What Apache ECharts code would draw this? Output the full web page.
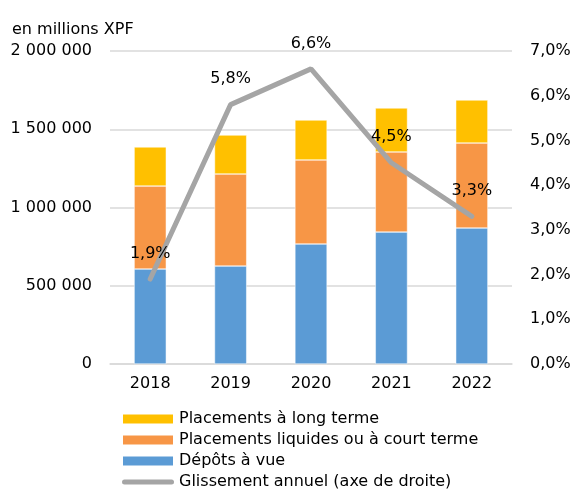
<!DOCTYPE html>
<html>
<head>
<meta charset="utf-8">
<script src="https://cdn.jsdelivr.net/npm/echarts@6/dist/echarts.min.js"></script>
<style>
  html, body { margin: 0; padding: 0; background: #fff; }
  #chart { width: 575px; height: 491px; }
</style>
</head>
<body>
<div id="chart"></div>
<script>
const years = ["2018", "2019", "2020", "2021", "2022"];
// en millions XPF
const depotsVue = [607000, 626000, 767000, 843000, 869000];
const placementsCourt = [530000, 588000, 537000, 512000, 543000];
const placementsLong = [250000, 249000, 255000, 281000, 275000];
// glissement annuel en %
const glissement = [1.9, 5.8, 6.6, 4.5, 3.3];

const font = "DejaVu Sans";
const chart = echarts.init(document.getElementById("chart"));

const fmtNum = v => String(v).replace(/\B(?=(\d{3})+(?!\d))/g, " ");
const fmtPct = v => v.toFixed(1).replace(".", ",") + "%";

chart.setOption({
    animation: false,
    textStyle: { fontFamily: font },
    title: {
        text: "en millions XPF",
        left: 7,
        top: 17,
        textStyle: { fontFamily: font, fontSize: 16, fontWeight: "normal", color: "#000" }
    },
    grid: { left: 110, right: 63, top: 51, bottom: 127 },
    legend: {
        orient: "vertical",
        left: 116,
        top: 406,
        height: 90,
        itemWidth: 52,
        itemHeight: 11,
        itemGap: 5,
        textStyle: { fontFamily: font, fontSize: 16, lineHeight: 16, color: "#000" },
        data: [
            { name: "Placements à long terme", icon: "rect" },
            { name: "Placements liquides ou à court terme", icon: "rect" },
            { name: "Dépôts à vue", icon: "rect" },
            {
                name: "Glissement annuel (axe de droite)",
                icon: "path://M2.5,0 L49.5,0 A2.5,2.5 0 0 1 49.5,5 L2.5,5 A2.5,2.5 0 0 1 2.5,0 Z"
            }
        ]
    },
    xAxis: {
        type: "category",
        data: years,
        axisTick: { show: false },
        axisLine: { lineStyle: { color: "#d9d9d9", width: 1.5 } },
        axisLabel: { color: "#000", fontSize: 16, fontFamily: font, margin: 12 }
    },
    yAxis: [
        {
            type: "value",
            min: 0,
            max: 2000000,
            interval: 500000,
            axisLine: { show: false },
            axisTick: { show: false },
            splitLine: { lineStyle: { color: "#d9d9d9", width: 1.5 } },
            axisLabel: { color: "#000", fontSize: 16, fontFamily: font, margin: 18, formatter: fmtNum }
        },
        {
            type: "value",
            min: 0,
            max: 7,
            interval: 1,
            axisLine: { show: false },
            axisTick: { show: false },
            splitLine: { show: false },
            axisLabel: { color: "#000", fontSize: 16, fontFamily: font, margin: 18, formatter: fmtPct }
        }
    ],
    series: [
        {
            name: "Dépôts à vue",
            type: "bar",
            stack: "total",
            barWidth: "40%",
            itemStyle: { color: "#5b9bd5", borderColor: "#fff", borderWidth: 0.5 },
            data: depotsVue
        },
        {
            name: "Placements liquides ou à court terme",
            type: "bar",
            stack: "total",
            itemStyle: { color: "#f79646", borderColor: "#fff", borderWidth: 0.5 },
            data: placementsCourt
        },
        {
            name: "Placements à long terme",
            type: "bar",
            stack: "total",
            itemStyle: { color: "#ffc000", borderColor: "#fff", borderWidth: 0.5 },
            data: placementsLong
        },
        {
            name: "Glissement annuel (axe de droite)",
            type: "line",
            yAxisIndex: 1,
            symbol: "circle",
            symbolSize: 1,
            showSymbol: true,
            itemStyle: { color: "#a5a5a5" },
            lineStyle: { color: "#a5a5a5", width: 5, cap: "round" },
            label: {
                show: true,
                position: "top",
                distance: 17,
                color: "#000",
                fontSize: 16,
                fontFamily: font,
                formatter: p => fmtPct(p.value)
            },
            z: 5,
            data: glissement
        }
    ]
});
</script>
</body>
</html>
